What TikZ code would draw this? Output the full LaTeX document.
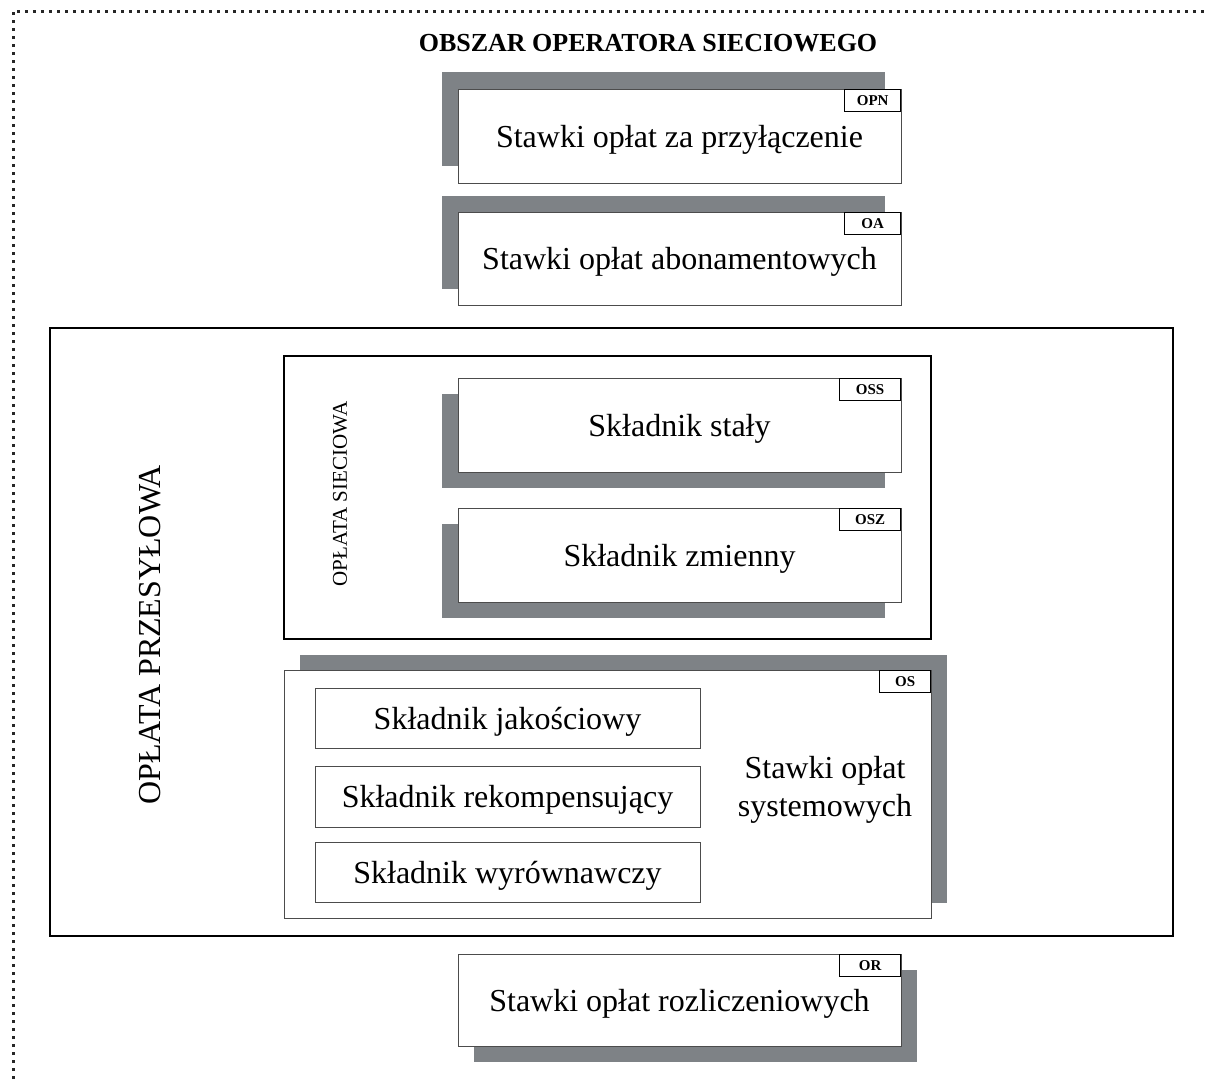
\documentclass[tikz,border=0pt]{standalone}
\usepackage{fontspec}
\setmainfont{Liberation Serif}
\usetikzlibrary{backgrounds}
\definecolor{shadowgray}{RGB}{126,130,134}
\newcommand{\dropshadow}[3]{\fill[shadowgray] ([shift={(#2,#3)}]#1.north west) rectangle ([shift={(#2,#3)}]#1.south east);}
\tikzset{
  rate/.style={draw=black!70, line width=0.9pt, fill=white, minimum width=443pt, minimum height=94pt, inner sep=0pt, text height=22pt, text depth=0pt, font=\fontsize{32}{38}\selectfont},
  part/.style={draw=black!70, line width=0.9pt, fill=white, minimum width=385pt, minimum height=60pt, inner sep=0pt, text height=22pt, text depth=0pt, font=\fontsize{32}{38}\selectfont},
  tag/.style={draw, line width=1.6pt, fill=white, minimum width=61pt, minimum height=22pt, inner sep=0pt, anchor=north east, font=\fontsize{15}{17}\selectfont\bfseries},
  areabox/.style={draw, inner sep=0pt},
}
\begin{document}
\begin{tikzpicture}[x=1pt, y=-1pt]
    \useasboundingbox (0,0) rectangle (1209,1079);
    % Obszar (linia kropkowana)
    \draw[line width=3pt, dash pattern=on 3pt off 5pt, black!85] (13,1079) -- (13,11) -- (1209,11);
    \node[font=\fontsize{26}{30}\selectfont\bfseries] (title) at (648,43) {OBSZAR OPERATORA SIECIOWEGO};

    % Stawki u gory
    \node[rate] (opn) at (679.5,136) {Stawki opłat za przyłączenie};
    \node[tag, minimum width=56pt] (opntag) at (opn.north east) {OPN};
    \node[rate, minimum height=93pt] (oa) at (679.5,258.5) {Stawki opłat abonamentowych};
    \node[tag, minimum width=56pt] (oatag) at (oa.north east) {OA};

    % Oplata przesylowa
    \node[areabox, line width=1.4pt, minimum width=1123pt, minimum height=608pt] (prz) at (611.5,632) {};
    \node[rotate=90, font=\fontsize{32}{38}\selectfont] (przlabel) at (150,635) {OPŁATA PRZESYŁOWA};

    % Oplata sieciowa
    \node[areabox, line width=2pt, minimum width=647pt, minimum height=283pt] (sie) at (607.5,497.5) {};
    \node[rotate=90, font=\fontsize{21}{25}\selectfont] (sielabel) at (340,494) {OPŁATA SIECIOWA};
    \node[rate] (oss) at (679.5,425) {Składnik stały};
    \node[tag] (osstag) at (oss.north east) {OSS};
    \node[rate] (osz) at (679.5,555) {Składnik zmienny};
    \node[tag] (osztag) at (osz.north east) {OSZ};

    % Oplata systemowa
    \node[rate, minimum width=647pt, minimum height=248pt] (os) at (607.5,794) {};
    \node[tag, minimum width=51pt] (ostag) at (os.north east) {OS};
    \node[part] (jak) at (507.5,718) {Składnik jakościowy};
    \node[part, minimum height=61pt] (rek) at (507.5,796.5) {Składnik rekompensujący};
    \node[part] (wyr) at (507.5,872) {Składnik wyrównawczy};
    \node[align=center, font=\fontsize{32}{38}\selectfont] (sys) at (825,790) {Stawki opłat\\systemowych};

    % Stawki rozliczeniowe
    \node[rate, minimum height=92pt] (or) at (679.5,1000) {Stawki opłat rozliczeniowych};
    \node[tag] (ortag) at (or.north east) {OR};

    % Cienie
    \begin{scope}[on background layer]
        \dropshadow{opn}{-16}{-17}
        \dropshadow{oa}{-16}{-16}
        \dropshadow{oss}{-16}{16}
        \dropshadow{osz}{-16}{16}
        \dropshadow{os}{16}{-15}
        \dropshadow{or}{16}{16}
    \end{scope}
\end{tikzpicture}
\end{document}
